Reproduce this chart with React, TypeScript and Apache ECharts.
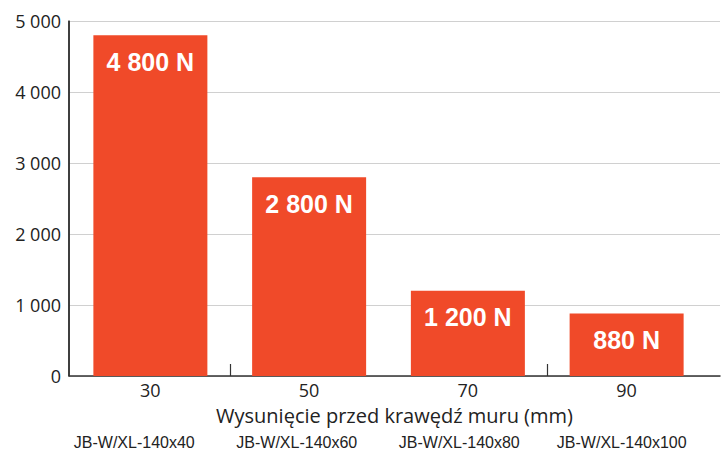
import React, { useEffect, useRef } from "react";
import * as echarts from "echarts";

const categories = ["30", "50", "70", "90"];
const models = ["JB-W/XL-140x40", "JB-W/XL-140x60", "JB-W/XL-140x80", "JB-W/XL-140x100"];
const values = [4800, 2800, 1200, 880];
const yMin = 0;
const yMax = 5000;
const yInterval = 1000;
const separatorTicks = [1, 3];
const axisName = "Wysunięcie przed krawędź muru (mm)";

const FONT = "'Liberation Sans', Arial, Helvetica, sans-serif";
const WIDE = "'Open Sans', 'Liberation Sans', Arial, sans-serif";
const fmt = (v: number) => String(v).replace(/\B(?=(\d{3})+(?!\d))/g, " ");

export default function App() {
  const ref = useRef<HTMLDivElement>(null);
  useEffect(() => {
    if (!ref.current) return;
    const chart = echarts.init(ref.current, undefined, { renderer: "svg" });
    const top = 21;
    const height = 355;
    chart.setOption({
      animation: false,
      textStyle: { fontFamily: FONT },
      grid: [
        { left: 71, right: 15, top, height },
        { left: 69, right: 1, top, height },
        { left: 53, right: 18, top, height },
        { left: 71, right: 15, top, height },
      ],
      xAxis: [
        {
          gridIndex: 0,
          type: "category",
          data: categories,
          axisLine: { show: false, onZero: false },
          axisTick: { show: false },
          axisLabel: { color: "#222", fontSize: 18, lineHeight: 18, margin: 5, fontFamily: WIDE },
        },
        {
          gridIndex: 1,
          type: "value",
          min: 0,
          max: 1,
          position: "bottom",
          axisLine: { show: true, onZero: false, lineStyle: { color: "#333", width: 1.5 } },
          axisTick: { show: false },
          axisLabel: { show: false },
          splitLine: { show: false },
          name: axisName,
          nameLocation: "middle",
          nameGap: 29,
          nameTextStyle: { color: "#222", fontSize: 20, lineHeight: 20, fontFamily: WIDE },
        },
        {
          gridIndex: 2,
          type: "category",
          data: models,
          axisLine: { show: false, onZero: false },
          axisTick: { show: false },
          axisLabel: { color: "#222", fontSize: 16, lineHeight: 16, margin: 59, interval: 0, fontFamily: FONT },
        },
        {
          gridIndex: 3,
          type: "value",
          min: 0,
          max: categories.length,
          position: "bottom",
          axisLine: { show: false, onZero: false },
          axisTick: {
            show: true,
            inside: true,
            length: 12,
            customValues: separatorTicks,
            lineStyle: { color: "#333", width: 1.2 },
          },
          axisLabel: { show: false },
          splitLine: { show: false },
        },
      ],
      yAxis: [
        { gridIndex: 0, type: "value", min: yMin, max: yMax, interval: yInterval, show: false },
        {
          gridIndex: 1,
          type: "value",
          min: yMin,
          max: yMax,
          interval: yInterval,
          position: "left",
          axisLine: { show: true, onZero: false, lineStyle: { color: "#333333", width: 1.5 } },
          axisTick: { show: false },
          axisLabel: { color: "#222", fontSize: 18, margin: 8, formatter: (v: number) => fmt(v), fontFamily: WIDE },
          splitLine: { show: true, lineStyle: { color: "#d0d0d0", width: 1 } },
        },
        { gridIndex: 2, type: "value", min: yMin, max: yMax, interval: yInterval, show: false },
        { gridIndex: 3, type: "value", min: yMin, max: yMax, interval: yInterval, show: false },
      ],
      series: [
        {
          type: "bar",
          xAxisIndex: 0,
          yAxisIndex: 0,
          data: values,
          barWidth: 114,
          itemStyle: { color: "#F04A29" },
          label: {
            show: true,
            position: "insideTop",
            distance: 14,
            color: "#fff",
            fontSize: 25,
            fontWeight: "bold",
            fontFamily: FONT,
            formatter: (p: any) => fmt(p.value) + " N",
          },
        },
        {
          type: "line",
          xAxisIndex: 1,
          yAxisIndex: 1,
          data: [],
          silent: true,
          markLine: {
            silent: true,
            symbol: "none",
            label: { show: false },
            lineStyle: { color: "#333333", width: 1.5, type: "solid" },
            data: [{ xAxis: 0 }],
          },
        },
      ],
    });
    return () => chart.dispose();
  }, []);
  return <div ref={ref} style={{ width: 721, height: 450, position: "absolute", left: 0, top: 0 }} />;
}
